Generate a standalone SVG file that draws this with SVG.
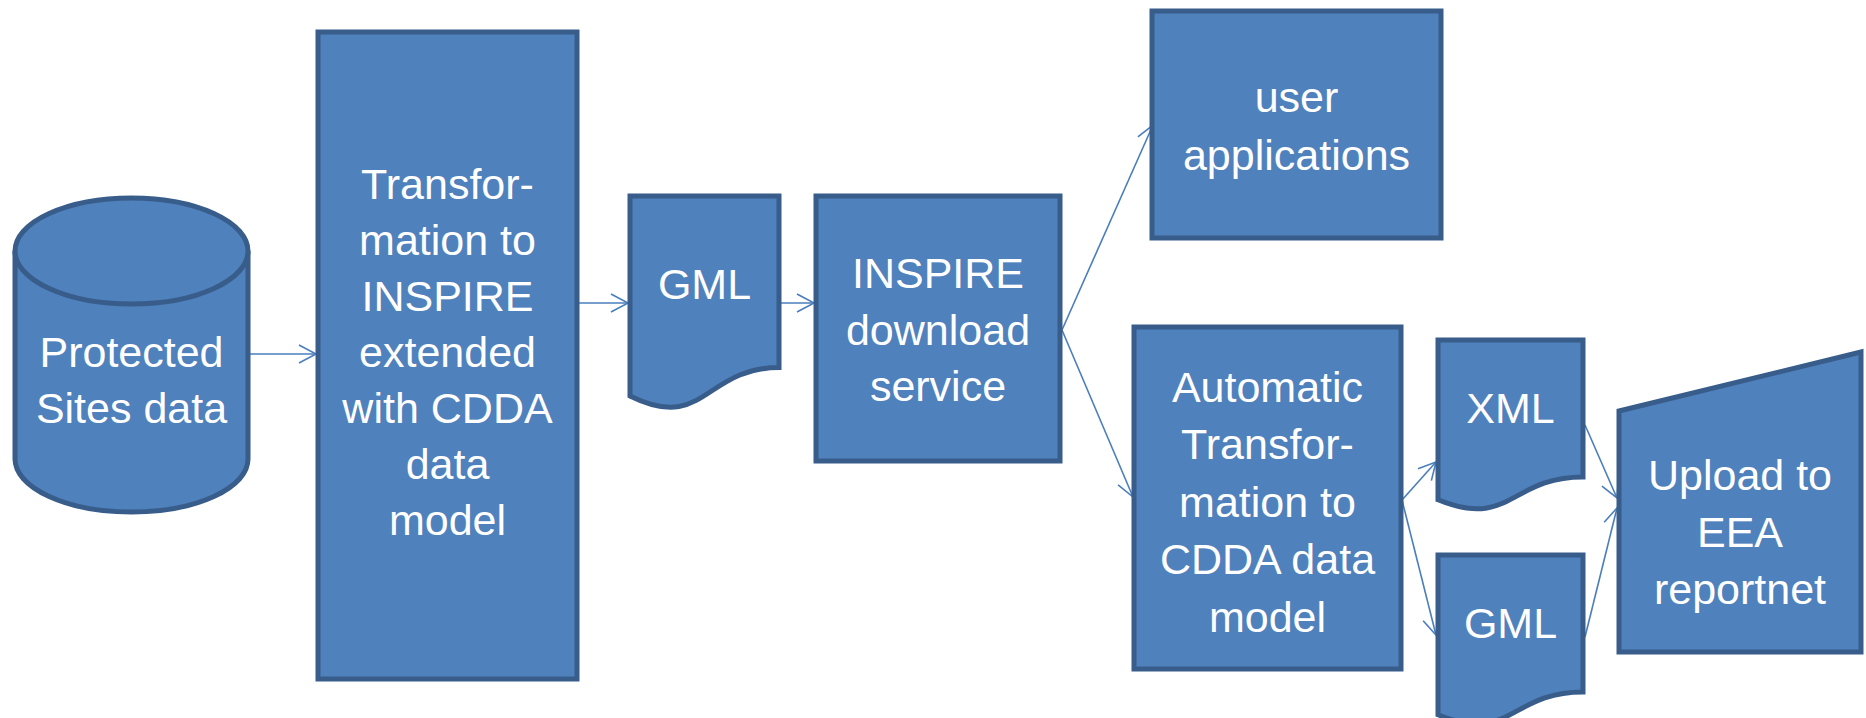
<svg xmlns="http://www.w3.org/2000/svg" width="1866" height="718" viewBox="0 0 1866 718">
<defs>
<style>
.n{fill:#4f81bd;stroke:#385d8a;stroke-width:5;stroke-linejoin:miter}
.t{font-family:"Liberation Sans",Arial,sans-serif;font-size:43px;fill:#ffffff;text-anchor:middle}
.c{fill:none;stroke:#4a7ebb;stroke-width:1.6}
</style>
<marker id="ah" markerUnits="userSpaceOnUse" markerWidth="20" markerHeight="20" refX="17" refY="9" orient="auto" overflow="visible">
<path d="M0,0 L17,9 L0,18" fill="none" stroke="#4a7ebb" stroke-width="1.6"/>
</marker>
</defs>
<rect width="1866" height="718" fill="#ffffff"/>
<g id="connectors">
<line class="c" x1="249" y1="354" x2="316" y2="354" marker-end="url(#ah)"/>
<line class="c" x1="579" y1="303" x2="628" y2="303" marker-end="url(#ah)"/>
<line class="c" x1="781" y1="303" x2="814" y2="303" marker-end="url(#ah)"/>
<line class="c" x1="1062" y1="330" x2="1153" y2="125" marker-end="url(#ah)"/>
<line class="c" x1="1062" y1="330" x2="1133" y2="497" marker-end="url(#ah)"/>
<line class="c" x1="1402" y1="500" x2="1436" y2="462" marker-end="url(#ah)"/>
<line class="c" x1="1402" y1="500" x2="1436" y2="635" marker-end="url(#ah)"/>
<line class="c" x1="1585" y1="425" x2="1617" y2="498" marker-end="url(#ah)"/>
<line class="c" x1="1585" y1="637" x2="1617" y2="508" marker-end="url(#ah)"/>
</g>
<g id="protected-sites">
<path class="n" d="M15,251 A116.5,53 0 0 1 248,251 V459 A116.5,53 0 0 1 15,459 Z"/>
<path class="n" d="M15,251 A116.5,53 0 0 0 248,251" fill="none"/>
<text class="t" x="131.5" y="367">Protected</text>
<text class="t" x="131.5" y="423">Sites data</text>
</g>
<g id="transformation">
<rect class="n" x="318" y="32" width="259" height="647"/>
<text class="t" x="447.5" y="199">Transfor-</text>
<text class="t" x="447.5" y="255">mation to</text>
<text class="t" x="447.5" y="311">INSPIRE</text>
<text class="t" x="447.5" y="367">extended</text>
<text class="t" x="447.5" y="423">with CDDA</text>
<text class="t" x="447.5" y="479">data</text>
<text class="t" x="447.5" y="535">model</text>
</g>
<g id="gml1">
<path class="n" d="M630,196 H779 V367.6 C704.5,367.6 704.5,432.9 630,395.9 Z"/>
<text class="t" x="704.5" y="299">GML</text>
</g>
<g id="inspire-download">
<rect class="n" x="816" y="196" width="244" height="265"/>
<text class="t" x="938" y="288">INSPIRE</text>
<text class="t" x="938" y="345">download</text>
<text class="t" x="938" y="401">service</text>
</g>
<g id="user-applications">
<rect class="n" x="1152" y="11" width="289" height="227"/>
<text class="t" x="1296.5" y="112">user</text>
<text class="t" x="1296.5" y="170">applications</text>
</g>
<g id="automatic">
<rect class="n" x="1134" y="327" width="267" height="342"/>
<text class="t" x="1267.5" y="402">Automatic</text>
<text class="t" x="1267.5" y="459">Transfor-</text>
<text class="t" x="1267.5" y="517">mation to</text>
<text class="t" x="1267.5" y="574">CDDA data</text>
<text class="t" x="1267.5" y="632">model</text>
</g>
<g id="xml">
<path class="n" d="M1438,340 H1583 V477 C1510.5,477 1510.5,529.3 1438,499.7 Z"/>
<text class="t" x="1510.5" y="423">XML</text>
</g>
<g id="gml2">
<path class="n" d="M1438,555 H1583 V692 C1510.5,692 1510.5,744.3 1438,714.7 Z"/>
<text class="t" x="1510.5" y="638">GML</text>
</g>
<g id="upload">
<path class="n" d="M1619,411 L1861,352 V652 H1619 Z"/>
<text class="t" x="1740" y="490">Upload to</text>
<text class="t" x="1740" y="547">EEA</text>
<text class="t" x="1740" y="604">reportnet</text>
</g>
</svg>
